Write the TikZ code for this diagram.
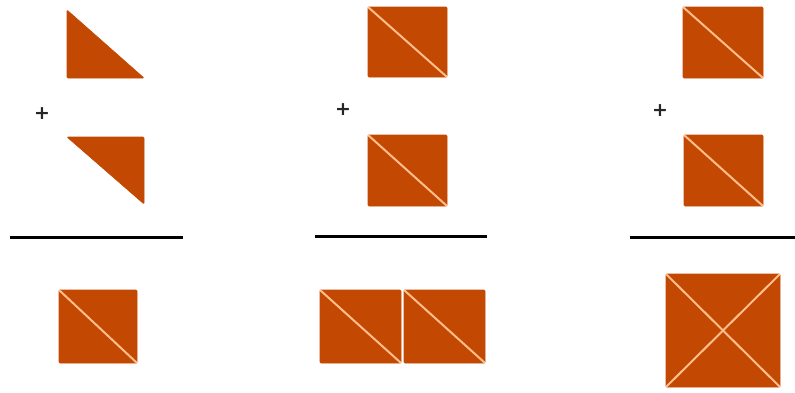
\documentclass[tikz,border=0pt]{standalone}
\usepackage{fontspec}
\newfontfamily\plusfont{DejaVu Sans}
\definecolor{tile}{RGB}{195,72,2}
\definecolor{seam}{RGB}{255,190,140}
\tikzset{
  piece/.style={fill=tile, draw=tile, line width=0.6pt, rounded corners=1pt},
  cut/.style={draw=seam, line width=2pt},
  bar/.style={draw=black, line width=3pt},
  plus/.style={font=\plusfont\bfseries\fontsize{19}{19}\selectfont, text=black!85, inner sep=0pt}
}
\begin{document}
\begin{tikzpicture}[x=1pt,y=-1pt]
\useasboundingbox (0,0) rectangle (795,392);
% ---------- panel 1 ----------
\fill[piece] (67,10) -- (67,78) -- (144,78) -- cycle;
\node[plus] (p1) at (42,114) {+};
\fill[piece] (67,137) -- (144,137) -- (144,204) -- cycle;
\coordinate (l1a) at (10,237); \coordinate (l1b) at (183,237);
\draw[bar] (l1a) -- (l1b);
\fill[piece] (59,290) rectangle (137,363);
\draw[cut] (59,290) -- (137,363);
% ---------- panel 2 ----------
\fill[piece] (368,7) rectangle (447,77);
\draw[cut] (368,7) -- (447,77);
\node[plus] (p2) at (343,110) {+};
\fill[piece] (368,135) rectangle (447,206);
\draw[cut] (368,135) -- (447,206);
\coordinate (l2a) at (315,236); \coordinate (l2b) at (487,236);
\draw[bar] (l2a) -- (l2b);
\fill[piece] (320,290) rectangle (401,363);
\draw[cut] (320,290) -- (401,363);
\fill[piece] (404,290) rectangle (485,363);
\draw[cut] (404,290) -- (485,363);
% ---------- panel 3 ----------
\fill[piece] (683,7) rectangle (763,78);
\draw[cut] (683,7) -- (763,78);
\node[plus] (p3) at (660,111) {+};
\fill[piece] (684,135) rectangle (763,206);
\draw[cut] (684,135) -- (763,206);
\coordinate (l3a) at (630,237); \coordinate (l3b) at (795,237);
\draw[bar] (l3a) -- (l3b);
\fill[piece] (666,274) rectangle (780,387);
\draw[cut] (666,274) -- (780,387);
\draw[cut] (780,274) -- (666,387);
\end{tikzpicture}
\end{document}
